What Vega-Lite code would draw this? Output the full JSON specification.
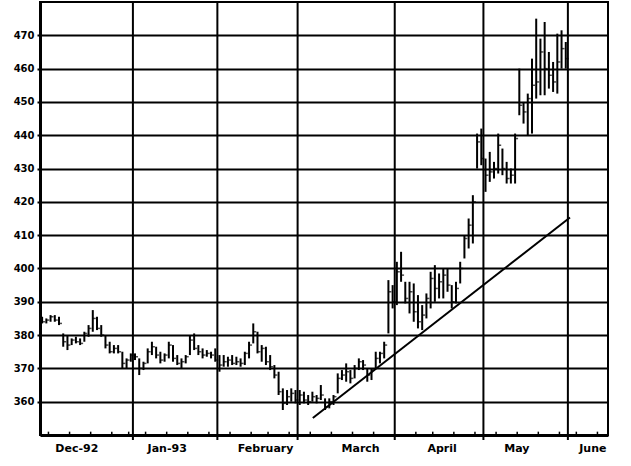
{
  "$schema": "https://vega.github.io/schema/vega-lite/v6.json",
  "width": 568,
  "height": 433,
  "autosize": "none",
  "padding": {"left": 40, "top": 2, "right": 23, "bottom": 31},
  "background": "white",
  "config": {
    "view": {"stroke": "black", "strokeWidth": 2},
    "axis": {"labelFont": "DejaVu Sans", "labelFontWeight": "bold", "labelColor": "black", "title": null}
  },
  "datasets": {
    "bars": [
      {"d":0,"h":385.5,"l":383.5,"c":384},{"d":1,"h":385,"l":383.5,"c":384.5},{"d":2,"h":386,"l":384,"c":385.5},{"d":3,"h":386,"l":384,"c":384.5},{"d":4,"h":385.5,"l":383,"c":383.5},
      {"d":5,"h":380.5,"l":376.5,"c":378},{"d":6,"h":380,"l":375.5,"c":377},{"d":7,"h":379,"l":377,"c":378.5},{"d":8,"h":379.5,"l":377.5,"c":378},{"d":9,"h":379,"l":377,"c":377.5},
      {"d":10,"h":381,"l":378,"c":380.5},{"d":11,"h":383,"l":379.5,"c":382},{"d":12,"h":387.5,"l":381,"c":385},{"d":13,"h":385.5,"l":381.5,"c":382},{"d":14,"h":383,"l":379.5,"c":380},
      {"d":15,"h":380,"l":376,"c":377},{"d":16,"h":378,"l":374.5,"c":375},{"d":17,"h":377,"l":374.5,"c":376},{"d":18,"h":377,"l":374.5,"c":375},{"d":19,"h":375,"l":370,"c":371.5},
      {"d":20,"h":373,"l":370,"c":372.5},{"d":21,"h":374.5,"l":372,"c":374},
      {"d":22,"h":374.5,"l":372.5,"c":373.5},{"d":23,"h":373,"l":368,"c":370},{"d":24,"h":372,"l":369.5,"c":371.5},{"d":25,"h":376,"l":371.5,"c":375},{"d":26,"h":378,"l":374,"c":376.5},
      {"d":27,"h":376.5,"l":373,"c":374},{"d":28,"h":375,"l":371.5,"c":372.5},{"d":29,"h":374.5,"l":372,"c":374},{"d":30,"h":378,"l":373,"c":377},{"d":31,"h":377,"l":372,"c":373},
      {"d":32,"h":374,"l":371,"c":371.5},{"d":33,"h":373,"l":370,"c":372},{"d":34,"h":374,"l":371.5,"c":373.5},{"d":35,"h":380,"l":374,"c":378.5},{"d":36,"h":380.5,"l":375.5,"c":376},
      {"d":37,"h":377,"l":374,"c":375},{"d":38,"h":376,"l":373,"c":374},{"d":39,"h":375.5,"l":373.5,"c":374.5},{"d":40,"h":375,"l":373,"c":374},{"d":41,"h":376,"l":372,"c":372.5},
      {"d":42,"h":374,"l":369,"c":371},{"d":43,"h":374,"l":370.5,"c":372},{"d":44,"h":373.5,"l":370.5,"c":372.5},{"d":45,"h":374,"l":371,"c":371.5},{"d":46,"h":373.5,"l":371,"c":372},
      {"d":47,"h":373,"l":370.5,"c":371.5},{"d":48,"h":375,"l":371,"c":374.5},{"d":49,"h":378,"l":373,"c":377},{"d":50,"h":383.5,"l":377.5,"c":381},{"d":51,"h":381,"l":374.5,"c":375},
      {"d":52,"h":377,"l":372,"c":376},{"d":53,"h":376.5,"l":371,"c":372},{"d":54,"h":374,"l":369.5,"c":370.5},{"d":55,"h":371,"l":367,"c":368},{"d":56,"h":369,"l":362,"c":363},
      {"d":57,"h":364,"l":357.5,"c":359.5},{"d":58,"h":363.5,"l":359,"c":361.5},{"d":59,"h":364,"l":360,"c":362.5},{"d":60,"h":363.5,"l":359.5,"c":360.5},
      {"d":61,"h":363.5,"l":359,"c":362},{"d":62,"h":363,"l":359.5,"c":360.5},{"d":63,"h":362,"l":359,"c":360},{"d":64,"h":363,"l":360,"c":361.5},{"d":65,"h":362,"l":359.5,"c":361},
      {"d":66,"h":365,"l":360.5,"c":362},{"d":67,"h":361,"l":357.5,"c":358.5},{"d":68,"h":361,"l":358,"c":360},{"d":69,"h":362,"l":359,"c":361.5},{"d":70,"h":368.5,"l":362.5,"c":367},
      {"d":71,"h":369.5,"l":366.5,"c":368},{"d":72,"h":371.5,"l":366,"c":369},{"d":73,"h":369.5,"l":365.5,"c":367},{"d":74,"h":371,"l":367,"c":370},{"d":75,"h":373,"l":369.5,"c":372},
      {"d":76,"h":372.5,"l":369.5,"c":371},{"d":77,"h":370,"l":366,"c":368},{"d":78,"h":370,"l":366.5,"c":369.5},{"d":79,"h":375,"l":370,"c":373},{"d":80,"h":375,"l":371.5,"c":374.5},
      {"d":81,"h":378,"l":373,"c":377},{"d":82,"h":396.5,"l":380.5,"c":393},{"d":83,"h":395,"l":388,"c":390},
      {"d":84,"h":402,"l":389,"c":399},{"d":85,"h":405,"l":396,"c":398},{"d":86,"h":396,"l":389.5,"c":391},{"d":87,"h":396,"l":386.5,"c":393},{"d":88,"h":395.5,"l":384,"c":387},
      {"d":89,"h":392,"l":382,"c":384},{"d":90,"h":389,"l":381.5,"c":386},{"d":91,"h":392.5,"l":385,"c":391},{"d":92,"h":399,"l":388,"c":397},{"d":93,"h":401,"l":390,"c":394},
      {"d":94,"h":398.5,"l":391,"c":396},{"d":95,"h":400,"l":391,"c":398},{"d":96,"h":400,"l":393,"c":395},{"d":97,"h":395,"l":388,"c":390},{"d":98,"h":396,"l":389.5,"c":394},
      {"d":99,"h":402,"l":395.5,"c":400},{"d":100,"h":410,"l":403,"c":409},{"d":101,"h":415,"l":406,"c":413},{"d":102,"h":422,"l":407.5,"c":420},{"d":103,"h":440.5,"l":430,"c":438},
      {"d":104,"h":442,"l":431,"c":433},
      {"d":105,"h":433,"l":423,"c":428},{"d":106,"h":435,"l":426,"c":429},{"d":107,"h":432,"l":427,"c":430},{"d":108,"h":440.5,"l":428.5,"c":437},{"d":109,"h":436,"l":428,"c":430},
      {"d":110,"h":432,"l":425.5,"c":427},{"d":111,"h":430,"l":425.5,"c":428},{"d":112,"h":440.5,"l":425.5,"c":439},{"d":113,"h":460,"l":446,"c":449},{"d":114,"h":450,"l":443.5,"c":447},
      {"d":115,"h":452.5,"l":440,"c":451},{"d":116,"h":463,"l":440.5,"c":455},{"d":117,"h":475,"l":451,"c":456},{"d":118,"h":469,"l":452,"c":465},{"d":119,"h":474,"l":452,"c":460},
      {"d":120,"h":465,"l":454,"c":458},{"d":121,"h":462,"l":453,"c":456},{"d":122,"h":470.5,"l":452.5,"c":462},{"d":123,"h":471.5,"l":460,"c":466},{"d":124,"h":468,"l":460,"c":463}
    ],
    "months": [{"m":21.5},{"m":41.5},{"m":60.5},{"m":83.5},{"m":104.5},{"m":124.5}],
    "weeks": [{"w":1.5},{"w":6.5},{"w":11.5},{"w":16.5},{"w":20.5},{"w":24.5},{"w":29.5},{"w":34.5},{"w":39.5},{"w":44.5},{"w":49.5},{"w":53.5},{"w":58.5},{"w":63.5},{"w":68.5},{"w":73.5},{"w":78.5},{"w":88.5},{"w":92.5},{"w":97.5},{"w":102.5},{"w":107.5},{"w":112.5},{"w":117.5},{"w":122.5},{"w":126.5},{"w":131.5}],
    "trend": [{"d":64.1,"p":355.1},{"d":125.0,"p":415.3}]
  },
  "layer": [
    {
      "data": {"name": "bars"},
      "mark": {"type": "rule", "color": "black", "strokeWidth": 2},
      "encoding": {
        "x": {"field": "d", "type": "quantitative", "scale": {"domain": [-0.5, 134], "nice": false, "zero": false},
          "axis": {"title": null, "values": [8.1, 29.5, 52.8, 75.3, 94.6, 112.3, 130.3], "grid": false, "ticks": false, "tickSize": 0, "domain": true, "domainColor": "black", "domainWidth": 3, "labelPadding": 7, "labelFontSize": 11, "labelAngle": 0, "labelFlush": false, "labelOverlap": false,
            "labelExpr": "datum.value < 20 ? 'Dec-92' : datum.value < 40 ? 'Jan-93' : datum.value < 60 ? 'February' : datum.value < 85 ? 'March' : datum.value < 100 ? 'April' : datum.value < 120 ? 'May' : 'June'"}},
        "y": {"field": "l", "type": "quantitative", "scale": {"domain": [350, 480], "nice": false, "zero": false},
          "axis": {"title": null, "values": [360, 370, 380, 390, 400, 410, 420, 430, 440, 450, 460, 470], "grid": true, "gridColor": "black", "gridWidth": 2, "gridOpacity": 1, "domain": true, "domainColor": "black", "domainWidth": 3, "ticks": true, "tickSize": 3, "tickWidth": 2, "tickColor": "black", "labelPadding": 3, "labelFontSize": 10, "labelFlush": false, "labelOverlap": false}},
        "y2": {"field": "h"}
      }
    },
    {
      "data": {"name": "months"},
      "mark": {"type": "rule", "color": "black", "strokeWidth": 2},
      "encoding": {
        "x": {"field": "m", "type": "quantitative", "scale": {"domain": [-0.5, 134], "nice": false, "zero": false},
          "axis": {"title": null, "values": [8.1, 29.5, 52.8, 75.3, 94.6, 112.3, 130.3], "grid": false, "ticks": false, "tickSize": 0, "domain": true, "domainColor": "black", "domainWidth": 3, "labelPadding": 7, "labelFontSize": 11, "labelAngle": 0, "labelFlush": false, "labelOverlap": false,
            "labelExpr": "datum.value < 20 ? 'Dec-92' : datum.value < 40 ? 'Jan-93' : datum.value < 60 ? 'February' : datum.value < 85 ? 'March' : datum.value < 100 ? 'April' : datum.value < 120 ? 'May' : 'June'"}},
        "y": {"datum": 348.5, "type": "quantitative", "scale": {"domain": [350, 480], "nice": false, "zero": false},
          "axis": {"title": null, "values": [360, 370, 380, 390, 400, 410, 420, 430, 440, 450, 460, 470], "grid": true, "gridColor": "black", "gridWidth": 2, "gridOpacity": 1, "domain": true, "domainColor": "black", "domainWidth": 3, "ticks": true, "tickSize": 3, "tickWidth": 2, "tickColor": "black", "labelPadding": 3, "labelFontSize": 10, "labelFlush": false, "labelOverlap": false}},
        "y2": {"datum": 480}
      }
    },
    {
      "data": {"name": "weeks"},
      "mark": {"type": "rule", "color": "black", "strokeWidth": 1.5},
      "encoding": {
        "x": {"field": "w", "type": "quantitative", "scale": {"domain": [-0.5, 134], "nice": false, "zero": false},
          "axis": {"title": null, "values": [8.1, 29.5, 52.8, 75.3, 94.6, 112.3, 130.3], "grid": false, "ticks": false, "tickSize": 0, "domain": true, "domainColor": "black", "domainWidth": 3, "labelPadding": 7, "labelFontSize": 11, "labelAngle": 0, "labelFlush": false, "labelOverlap": false,
            "labelExpr": "datum.value < 20 ? 'Dec-92' : datum.value < 40 ? 'Jan-93' : datum.value < 60 ? 'February' : datum.value < 85 ? 'March' : datum.value < 100 ? 'April' : datum.value < 120 ? 'May' : 'June'"}},
        "y": {"datum": 350, "type": "quantitative", "scale": {"domain": [350, 480], "nice": false, "zero": false},
          "axis": {"title": null, "values": [360, 370, 380, 390, 400, 410, 420, 430, 440, 450, 460, 470], "grid": true, "gridColor": "black", "gridWidth": 2, "gridOpacity": 1, "domain": true, "domainColor": "black", "domainWidth": 3, "ticks": true, "tickSize": 3, "tickWidth": 2, "tickColor": "black", "labelPadding": 3, "labelFontSize": 10, "labelFlush": false, "labelOverlap": false}},
        "y2": {"datum": 351}
      }
    },
    {
      "data": {"name": "bars"},
      "mark": {"type": "tick", "color": "black", "orient": "horizontal", "size": 3, "thickness": 1.5, "xOffset": 1.5},
      "encoding": {
        "x": {"field": "d", "type": "quantitative", "scale": {"domain": [-0.5, 134], "nice": false, "zero": false},
          "axis": {"title": null, "values": [8.1, 29.5, 52.8, 75.3, 94.6, 112.3, 130.3], "grid": false, "ticks": false, "tickSize": 0, "domain": true, "domainColor": "black", "domainWidth": 3, "labelPadding": 7, "labelFontSize": 11, "labelAngle": 0, "labelFlush": false, "labelOverlap": false,
            "labelExpr": "datum.value < 20 ? 'Dec-92' : datum.value < 40 ? 'Jan-93' : datum.value < 60 ? 'February' : datum.value < 85 ? 'March' : datum.value < 100 ? 'April' : datum.value < 120 ? 'May' : 'June'"}},
        "y": {"field": "c", "type": "quantitative", "scale": {"domain": [350, 480], "nice": false, "zero": false},
          "axis": {"title": null, "values": [360, 370, 380, 390, 400, 410, 420, 430, 440, 450, 460, 470], "grid": true, "gridColor": "black", "gridWidth": 2, "gridOpacity": 1, "domain": true, "domainColor": "black", "domainWidth": 3, "ticks": true, "tickSize": 3, "tickWidth": 2, "tickColor": "black", "labelPadding": 3, "labelFontSize": 10, "labelFlush": false, "labelOverlap": false}}
      }
    },
    {
      "data": {"name": "trend"},
      "mark": {"type": "line", "color": "black", "strokeWidth": 2},
      "encoding": {
        "x": {"field": "d", "type": "quantitative", "scale": {"domain": [-0.5, 134], "nice": false, "zero": false},
          "axis": {"title": null, "values": [8.1, 29.5, 52.8, 75.3, 94.6, 112.3, 130.3], "grid": false, "ticks": false, "tickSize": 0, "domain": true, "domainColor": "black", "domainWidth": 3, "labelPadding": 7, "labelFontSize": 11, "labelAngle": 0, "labelFlush": false, "labelOverlap": false,
            "labelExpr": "datum.value < 20 ? 'Dec-92' : datum.value < 40 ? 'Jan-93' : datum.value < 60 ? 'February' : datum.value < 85 ? 'March' : datum.value < 100 ? 'April' : datum.value < 120 ? 'May' : 'June'"}},
        "y": {"field": "p", "type": "quantitative", "scale": {"domain": [350, 480], "nice": false, "zero": false},
          "axis": {"title": null, "values": [360, 370, 380, 390, 400, 410, 420, 430, 440, 450, 460, 470], "grid": true, "gridColor": "black", "gridWidth": 2, "gridOpacity": 1, "domain": true, "domainColor": "black", "domainWidth": 3, "ticks": true, "tickSize": 3, "tickWidth": 2, "tickColor": "black", "labelPadding": 3, "labelFontSize": 10, "labelFlush": false, "labelOverlap": false}}
      }
    }
  ]
}
